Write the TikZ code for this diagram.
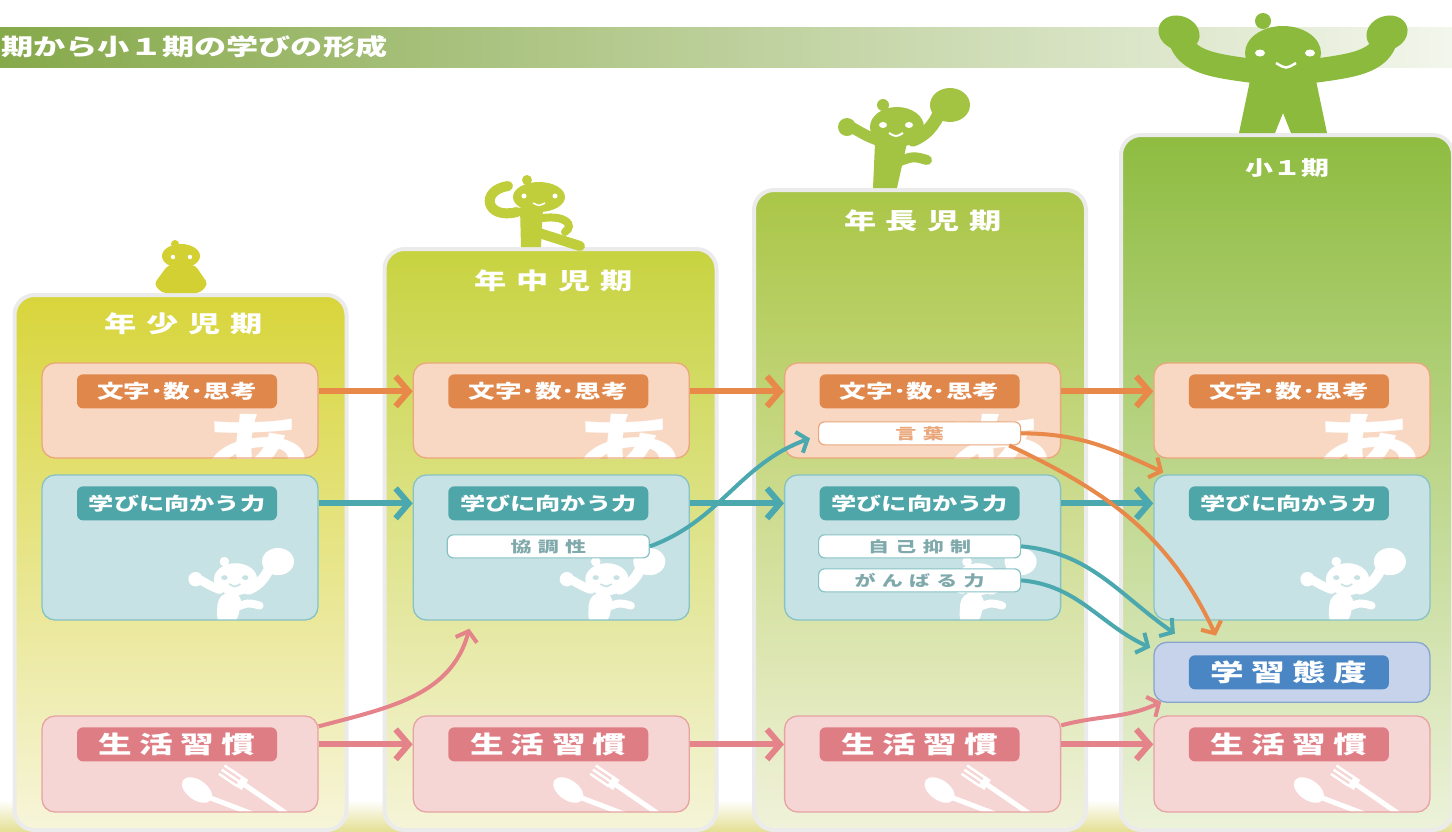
\documentclass[tikz,border=0pt]{standalone}
\usepackage{fontspec}
\usepackage{graphicx}
\setmainfont{Noto Sans CJK JP}
\newfontfamily\spaced[LetterSpace=30]{Noto Sans CJK JP}
\newfontfamily\semispaced[LetterSpace=22]{Noto Sans CJK JP}
\usetikzlibrary{positioning, arrows.meta}

\definecolor{bannerL}{HTML}{86A94A}
\definecolor{bannerR}{HTML}{F3F6EC}
\definecolor{floor}{HTML}{E4E095}
\definecolor{stageA}{HTML}{D8D53B}
\definecolor{stageB}{HTML}{C8D340}
\definecolor{stageC}{HTML}{AAC647}
\definecolor{stageD}{HTML}{8EBC40}
\definecolor{stageAlow}{HTML}{F7F5DA}
\definecolor{stageBlow}{HTML}{F5F4D8}
\definecolor{stageClow}{HTML}{F0F2DA}
\definecolor{stageDlow}{HTML}{EDF2DA}
\definecolor{kidA}{HTML}{D2D032}
\definecolor{kidB}{HTML}{C0CE3C}
\definecolor{kidC}{HTML}{A3C443}
\definecolor{kidD}{HTML}{8BBA3C}
\definecolor{mojifill}{HTML}{F8D8C2}
\definecolor{mojiline}{HTML}{EAA77B}
\definecolor{mojidark}{HTML}{E0874B}
\definecolor{mojiarrow}{HTML}{E8894A}
\definecolor{manabifill}{HTML}{C7E2E4}
\definecolor{manabiline}{HTML}{87C2C5}
\definecolor{manabidark}{HTML}{4EA6A9}
\definecolor{manabiarrow}{HTML}{4AA8AE}
\definecolor{seikatsufill}{HTML}{F6D6D4}
\definecolor{seikatsuline}{HTML}{E6A3A4}
\definecolor{seikatsudark}{HTML}{DF7D84}
\definecolor{seikatsuarrow}{HTML}{E4838A}
\definecolor{taidofill}{HTML}{C6D3EA}
\definecolor{taidoline}{HTML}{87A3CE}
\definecolor{taidodark}{HTML}{4A86C4}
\definecolor{notetext}{HTML}{7FA9AB}

\newcommand{\wide}[1]{\scalebox{1.4}[1]{#1}}

% little figures (#1 scales the stroke widths)
\tikzset{
  kid eye/.style={fill=white},
  kid eye line/.style={draw=white},
  jumper/.pic={
    \fill (-10,45) -- (22,45) -- (12,0) -- (-12,0) -- cycle;
    \fill (12,61) ellipse [x radius=27, y radius=20];
    \fill (-2,83) circle [radius=6];
    \draw[line width=#1*13pt, line cap=round] (28,48) .. controls (45,55) and (52,68) .. (58,84);
    \fill (65,83) ellipse [x radius=20, y radius=17];
    \draw[line width=#1*11pt, line cap=round] (-8,48) .. controls (-18,52) .. (-32,60);
    \fill (-38,61) circle [radius=9];
    \draw[line width=#1*10pt, line cap=round] (10,25) .. controls (28,32) .. (42,28);
    \fill[kid eye] (-2,63) ellipse [x radius=4, y radius=3];
    \fill[kid eye] (24,63) ellipse [x radius=4, y radius=3];
    \draw[kid eye line, line width=#1*2pt] (4,55) .. controls (11,51) .. (18,55);
  },
  cheer/.pic={
    \fill (-31,62) -- (31,62) -- (44,0) -- (8,0) -- (0,20) -- (-8,0) -- (-44,0) -- cycle;
    \fill (0,80) ellipse [x radius=38, y radius=27];
    \fill (-20,112) circle [radius=8];
    \draw[line width=#1*24pt, line cap=round] (-30,62) .. controls (-75,68) and (-100,72) .. (-104,100);
    \draw[line width=#1*24pt, line cap=round] (30,62) .. controls (75,68) and (100,72) .. (104,100);
    \fill[rotate around={-20:(-104,100)}] (-104,100) ellipse [x radius=21, y radius=17];
    \fill[rotate around={20:(104,100)}] (104,100) ellipse [x radius=21, y radius=17];
    \fill[kid eye] (-23,80) ellipse [x radius=5, y radius=3.5];
    \fill[kid eye] (27,80) ellipse [x radius=5, y radius=3.5];
    \draw[kid eye line, line width=#1*2.5pt] (-7,70) .. controls (3,64) .. (13,70);
  },
  cutlery/.pic={
    \fill[rotate around={-35:(-121,22)}] (-121,22) ellipse [x radius=17, y radius=10];
    \draw[line width=5pt, line cap=round] (-110,15) -- (-60,-4);
    \draw[line width=5pt, line cap=round] (-73,27) -- (-28,-4);
    \draw[line width=12pt] (-73,27) -- (-79,31);
    \draw[line width=2.5pt] (-80.8,25.9) -- (-99.1,38.2) (-78,30) -- (-96.3,42.3) (-75.2,34.2) -- (-93.5,46.5);
  }
}

\tikzstyle{stage} = [rectangle, rounded corners=20pt, minimum width=332pt, draw=black!8, line width=4pt, anchor=north]
\tikzstyle{stagetitle} = [text=white, inner sep=0pt, font=\spaced\fontsize{23}{26}\selectfont\bfseries]
\tikzstyle{panel} = [rectangle, rounded corners=13pt, minimum width=276pt, line width=1.3pt]
\tikzstyle{moji} = [panel, minimum height=95pt, draw=mojiline, fill=mojifill,
  path picture={\node[glyph] at ([xshift=-62pt,yshift=8pt]path picture bounding box.south east) {\wide{あ}};}]
\tikzstyle{manabi} = [panel, minimum height=145pt, draw=manabiline, fill=manabifill,
  path picture={\pic[white, scale=.8, kid eye/.style={fill=manabifill}, kid eye line/.style={draw=manabifill}] at ([xshift=-92pt,yshift=-8pt]path picture bounding box.south east) {jumper=.8};}]
\tikzstyle{seikatsu} = [panel, minimum height=96pt, draw=seikatsuline, fill=seikatsufill,
  path picture={\pic[white] at (path picture bounding box.south east) {cutlery};}]
\tikzstyle{taido} = [panel, minimum height=60pt, draw=taidoline, fill=taidofill]
\tikzstyle{glyph} = [anchor=center, text=white, inner sep=0pt, font=\fontsize{80}{80}\selectfont\bfseries]
\tikzstyle{tag} = [rectangle, rounded corners=6pt, minimum width=200pt, minimum height=34pt, inner sep=0pt, text=white]
\tikzstyle{mojitag} = [tag, fill=mojidark, font=\fontsize{19}{21}\selectfont\bfseries]
\tikzstyle{manabitag} = [tag, fill=manabidark, font=\fontsize{18}{20}\selectfont\bfseries]
\tikzstyle{seikatsutag} = [tag, fill=seikatsudark, font=\semispaced\fontsize{24}{26}\selectfont\bfseries]
\tikzstyle{taidotag} = [tag, fill=taidodark, font=\semispaced\fontsize{24}{26}\selectfont\bfseries]
\tikzstyle{note} = [rectangle, rounded corners=6pt, minimum width=202pt, minimum height=23pt, inner sep=0pt, fill=white, line width=1.2pt, font=\spaced\fontsize{15}{17}\selectfont\bfseries]
\tikzstyle{flow} = [line width=6pt, -{Straight Barb[length=13pt,width=30pt]}]
\tikzstyle{link} = [line width=4pt, -{Straight Barb[length=9pt,width=22pt]}]

\begin{document}
\begin{tikzpicture}[x=1pt, y=1pt]
\useasboundingbox (0,0) rectangle (1452,-831);
\fill[top color=white, bottom color=floor] (0,-800) rectangle (1452,-831);

% banner
  \node (banner) [anchor=north west, minimum width=1452pt, minimum height=40pt, inner sep=0pt, left color=bannerL, right color=bannerR] at (0,-27) {};
  \node (heading) [anchor=west, text=white, inner sep=0pt, font=\fontsize{23}{26}\selectfont\bfseries] at ([xshift=1pt]banner.west) {\wide{期から小１期の学びの形成}};

% the four stages
  \node (stage1) [stage, minimum height=535pt, top color=stageA, bottom color=stageAlow] at (180.5,-293) {};
  \node (stage2) [stage, minimum height=581pt, top color=stageB, bottom color=stageBlow] at (550.5,-247) {};
  \node (stage3) [stage, minimum height=640pt, top color=stageC, bottom color=stageClow] at (920,-188) {};
  \node (stage4) [stage, minimum height=695pt, top color=stageD, bottom color=stageDlow] at (1287,-133) {};
  \node (title1) [stagetitle] at ([xshift=3pt,yshift=-31pt]stage1.north) {\wide{年少児期}};
  \node (title2) [stagetitle] at ([xshift=3pt,yshift=-34pt]stage2.north) {\wide{年中児期}};
  \node (title3) [stagetitle] at ([xshift=3pt,yshift=-33pt]stage3.north) {\wide{年長児期}};
  \node (title4) [stagetitle, font=\fontsize{20}{22}\selectfont\bfseries] at ([yshift=-35pt]stage4.north) {\wide{小１期}};

% figures standing on the stages
\begin{scope}[kidA]
  \fill[rounded corners=4pt] (168,-265) -- (195,-265) -- (208,-284) -- (200,-293) -- (162,-293) -- (154,-284) -- cycle;
  \fill (181,-256) ellipse [x radius=19, y radius=12];
  \fill (175,-244) circle [radius=4];
  \fill[white] (173,-257) circle [radius=2.2] (190,-257) circle [radius=2.2];
\end{scope}
\begin{scope}[kidB]
  \fill (520,-208) -- (543,-208) -- (541,-247) -- (521,-247) -- cycle;
  \fill (539,-197) ellipse [x radius=26, y radius=15];
  \fill (527,-180) circle [radius=5];
  \draw[line width=10pt, line cap=round] (517,-212) .. controls (485,-220) and (480,-190) .. (508,-186);
  \draw[line width=8pt, line cap=round] (543,-218) .. controls (565,-215) and (575,-225) .. (565,-232);
  \draw[line width=10pt, line cap=round] (536,-232) -- (580,-246);
  \fill[white] (524,-196) circle [radius=2.5] (555,-196) circle [radius=2.5];
  \draw[white, line width=1.5pt] (533,-203) .. controls (539,-206) .. (545,-203);
\end{scope}
  \pic[kidC] at (885,-188) {jumper=1};
  \pic[kidD] at (1283,-133) {cheer=1};

% boxes
  \node (moji1) [moji] at (180,-410.5) {};
  \node (manabi1) [manabi] at (180,-547.5) {};
  \node (seikatsu1) [seikatsu] at (180,-764) {};
  \node (moji2) [moji, right=94pt of moji1] {};
  \node (manabi2) [manabi, right=94pt of manabi1] {};
  \node (seikatsu2) [seikatsu, right=94pt of seikatsu1] {};
  \node (moji3) [moji, right=94pt of moji2] {};
  \node (manabi3) [manabi, right=94pt of manabi2] {};
  \node (seikatsu3) [seikatsu, right=94pt of seikatsu2] {};
  \node (moji4) [moji, right=92pt of moji3] {};
  \node (manabi4) [manabi, right=92pt of manabi3] {};
  \node (seikatsu4) [seikatsu, right=92pt of seikatsu3] {};
  \node (taido4) [taido, below=21pt of manabi4] {};

% headings in the boxes
  \node (mojiLab1) [mojitag] at ([xshift=-3pt,yshift=-29pt]moji1.north) {\wide{文字･数･思考}};
  \node (mojiLab2) [mojitag] at ([xshift=-3pt,yshift=-29pt]moji2.north) {\wide{文字･数･思考}};
  \node (mojiLab3) [mojitag] at ([xshift=-3pt,yshift=-29pt]moji3.north) {\wide{文字･数･思考}};
  \node (mojiLab4) [mojitag] at ([xshift=-3pt,yshift=-29pt]moji4.north) {\wide{文字･数･思考}};
  \node (manabiLab1) [manabitag] at ([xshift=-3pt,yshift=-29pt]manabi1.north) {\wide{学びに向かう力}};
  \node (manabiLab2) [manabitag] at ([xshift=-3pt,yshift=-29pt]manabi2.north) {\wide{学びに向かう力}};
  \node (manabiLab3) [manabitag] at ([xshift=-3pt,yshift=-29pt]manabi3.north) {\wide{学びに向かう力}};
  \node (manabiLab4) [manabitag] at ([xshift=-3pt,yshift=-29pt]manabi4.north) {\wide{学びに向かう力}};
  \node (seikatsuLab1) [seikatsutag] at ([xshift=-3pt,yshift=-29pt]seikatsu1.north) {\wide{生活習慣}};
  \node (seikatsuLab2) [seikatsutag] at ([xshift=-3pt,yshift=-29pt]seikatsu2.north) {\wide{生活習慣}};
  \node (seikatsuLab3) [seikatsutag] at ([xshift=-3pt,yshift=-29pt]seikatsu3.north) {\wide{生活習慣}};
  \node (seikatsuLab4) [seikatsutag] at ([xshift=-3pt,yshift=-29pt]seikatsu4.north) {\wide{生活習慣}};
  \node (taidoLab) [taidotag] at ([xshift=-3pt]taido4.center) {\wide{学習態度}};

  \node (kyocho) [note, draw=manabiline, text=notetext] at ([xshift=-3pt,yshift=-72pt]manabi2.north) {\wide{協調性}};
  \node (kotoba) [note, draw=mojiline, text=mojiline] at ([xshift=-3pt,yshift=-71pt]moji3.north) {\wide{言葉}};
  \node (jiko) [note, draw=manabiline, text=notetext] at ([xshift=-3pt,yshift=-72pt]manabi3.north) {\wide{自己抑制}};
  \node (ganbaru) [note, draw=manabiline, text=notetext] at ([xshift=-3pt,yshift=-106pt]manabi3.north) {\wide{がんばる力}};

% stage to stage
  \draw[flow, mojiarrow] (moji1.east |- mojiLab1) -- (moji2.west |- mojiLab2);
  \draw[flow, mojiarrow] (moji2.east |- mojiLab2) -- (moji3.west |- mojiLab3);
  \draw[flow, mojiarrow] (moji3.east |- mojiLab3) -- (moji4.west |- mojiLab4);
  \draw[flow, manabiarrow] (manabi1.east |- manabiLab1) -- (manabi2.west |- manabiLab2);
  \draw[flow, manabiarrow] (manabi2.east |- manabiLab2) -- (manabi3.west |- manabiLab3);
  \draw[flow, manabiarrow] (manabi3.east |- manabiLab3) -- (manabi4.west |- manabiLab4);
  \draw[flow, seikatsuarrow] (seikatsu1.east |- seikatsuLab1) -- (seikatsu2.west |- seikatsuLab2);
  \draw[flow, seikatsuarrow] (seikatsu2.east |- seikatsuLab2) -- (seikatsu3.west |- seikatsuLab3);
  \draw[flow, seikatsuarrow] (seikatsu3.east |- seikatsuLab3) -- (seikatsu4.west |- seikatsuLab4);

% cross links
  \draw[link, manabiarrow] (kyocho.east) to[out=20,in=200] ([xshift=-8pt,yshift=-5pt]kotoba.west);
  \draw[link, mojiarrow] (kotoba.east) to[out=0,in=155] ([xshift=10pt,yshift=2pt]manabi4.north west);
  \draw[link, mojiarrow] ([xshift=-12pt]kotoba.south east) to[out=-25,in=115] ([xshift=-76pt,yshift=6pt]taido4.north);
  \draw[link, manabiarrow] (jiko.east) to[out=-5,in=145] ([xshift=-117pt,yshift=8pt]taido4.north);
  \draw[link, manabiarrow] (ganbaru.east) to[out=-5,in=155] ([xshift=-3pt,yshift=-6pt]taido4.north west);
  \draw[link, seikatsuarrow] ([yshift=-11pt]seikatsu1.north east) to[out=15,in=-105] ([xshift=-82pt,yshift=-8pt]manabi2.south);
  \draw[link, seikatsuarrow] ([yshift=-10pt]seikatsu3.north east) to[out=15,in=-155] ([xshift=8pt,yshift=1pt]taido4.south west);
\end{tikzpicture}
\end{document}
